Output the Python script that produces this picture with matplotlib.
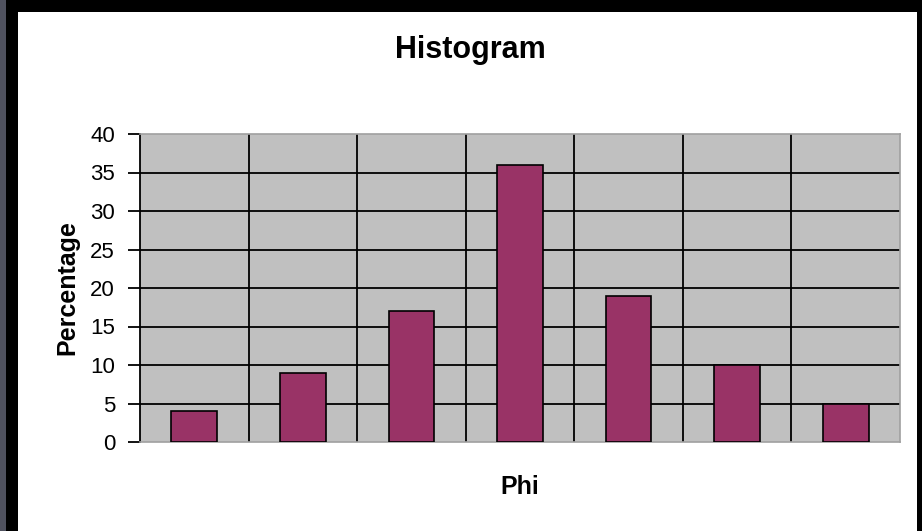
import numpy as np
import matplotlib.pyplot as plt
from matplotlib.patches import Rectangle

plt.rcParams['font.family'] = ['Liberation Sans', 'DejaVu Sans']

bins = ["1", "2", "3", "4", "5", "6", "7"]
percent = [4, 9, 17, 36, 19, 10, 5]
yticks = [0, 5, 10, 15, 20, 25, 30, 35, 40]

W, H = 922, 531
fig = plt.figure(figsize=(W / 100, H / 100), dpi=100, facecolor="black")

# outer frame: grey strip at left, white panel
fig.patches.append(Rectangle((0, 0), 6 / W, 1, transform=fig.transFigure,
                             facecolor="#50525f", edgecolor="none", zorder=-10))
fig.patches.append(Rectangle((18 / W, 0), (917 - 18) / W, (H - 12) / H,
                             transform=fig.transFigure, facecolor="white",
                             edgecolor="none", zorder=-10))

ax = fig.add_axes([140 / W, (H - 442) / H, (900 - 140) / W, (442 - 134) / H])
ax.set_facecolor("#c0c0c0")

x = np.arange(len(bins))
ax.bar(x, percent, width=0.42, color="#993366", edgecolor="black",
       linewidth=1.2, zorder=3)

ax.set_xlim(-0.5, len(bins) - 0.5)
ax.set_ylim(0, 40)
ax.set_yticks(yticks)
ax.set_yticklabels([str(v) for v in yticks], fontsize=16)
ax.set_xticks([])

# grid: horizontal at ticks, vertical at category boundaries
for v in yticks[1:-1]:
    ax.axhline(v, color="black", linewidth=1.3, zorder=1)
for b in x[:-1] + 0.5:
    ax.axvline(b, color="black", linewidth=1.3, zorder=1)

for side in ["top", "right", "bottom"]:
    ax.spines[side].set_color("#a0a0a0")
    ax.spines[side].set_linewidth(1.2)
ax.spines["left"].set_color("black")
ax.spines["left"].set_linewidth(1.3)
ax.tick_params(axis="y", direction="out", length=9, width=1.3, pad=9)

ax.set_ylabel("Percentage", fontsize=18, fontweight="bold", labelpad=8)
ax.set_xlabel("Phi", fontsize=18, fontweight="bold", labelpad=24)
fig.text(470 / W, 1 - 50 / H, "Histogram", ha="center", va="center",
         fontsize=22, fontweight="bold")

fig.savefig("out.png", dpi=100, facecolor=fig.get_facecolor())
